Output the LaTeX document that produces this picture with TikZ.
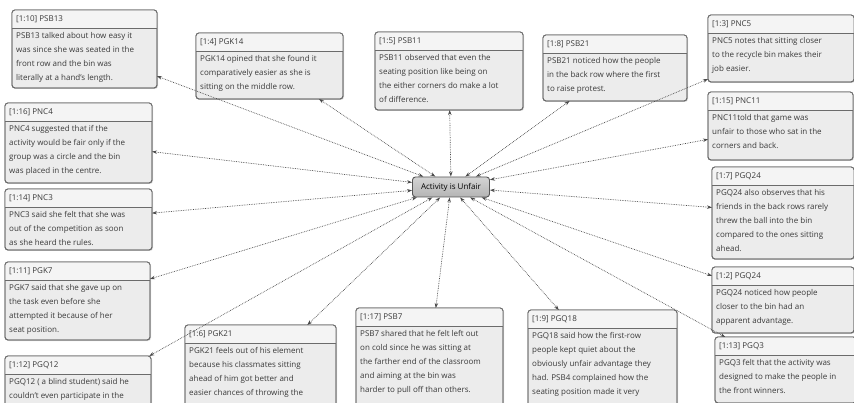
\documentclass[tikz,border=0pt]{standalone}
\usepackage{fontspec}
\setmainfont{Open Sans}
\usetikzlibrary{arrows.meta,calc,shadows}
\definecolor{boxborder}{HTML}{6B6B6B}
\definecolor{bodyfill}{HTML}{ECECEC}
\definecolor{headfill}{HTML}{F4F4F4}
\definecolor{txt}{HTML}{3A3A3A}
\definecolor{hubborder}{HTML}{555555}
\definecolor{hubtop}{HTML}{D4D4D4}
\definecolor{hubbot}{HTML}{B4B4B4}
\definecolor{conncol}{HTML}{4A4A4A}
\tikzset{
  qframe/.style={draw=boxborder, line width=0.9pt, fill=bodyfill, rounded corners=3pt,
    inner sep=0pt, outer sep=0pt, anchor=north west,
    drop shadow={shadow xshift=1pt, shadow yshift=-1pt, opacity=0.25}},
  qhead/.style={anchor=west, inner sep=0pt, font=\fontsize{8}{10}\selectfont, text=txt},
  qbody/.style={anchor=north west, inner sep=0pt, align=left, font=\fontsize{8}{14}\selectfont, text=txt},
  hub/.style={draw=hubborder, line width=0.9pt, rounded corners=3pt, top color=hubtop,
    bottom color=hubbot, minimum width=77pt, minimum height=20pt, inner sep=1pt,
    font=\fontsize{8}{10}\selectfont, text=black},
  conn/.style={densely dotted, line width=0.7pt, draw=conncol,
    {Stealth[length=5pt,width=3.5pt]}-{Stealth[length=5pt,width=3.5pt]}}
}
\newcommand\qbox[7]{%
  \node[qframe, minimum width=#4pt, minimum height=#5pt] (#1) at (#2,#3) {};
  \begin{scope}
    \clip[rounded corners=3pt] (#1.north west) rectangle (#1.south east);
    \fill[headfill] (#1.north west) rectangle ($(#1.north east)+(0,18)$);
  \end{scope}
  \draw[boxborder, line width=0.9pt, rounded corners=3pt] (#1.north west) rectangle (#1.south east);
  \draw[boxborder, line width=0.7pt] ($(#1.north west)+(0,18)$) -- ($(#1.north east)+(0,18)$);
  \node[qhead] (#1h) at ($(#1.north west)+(4,9)$) {#6};
  \node[qbody] (#1b) at ($(#1.north west)+(4,22)$) {#7};
}
\begin{document}
\begin{tikzpicture}[x=1pt,y=-1pt]
\useasboundingbox[fill=white] (0,0) rectangle (854,403);

\qbox{psb13}{12}{10}{145}{78}{[1:10] PSB13}{PSB13 talked about how easy it\\was since she was seated in the\\front row and the bin was\\literally at a hand's length.}
\qbox{pgk14}{196}{33}{147}{66}{[1:4] PGK14}{PGK14 opined that she found it\\comparatively easier as she is\\sitting on the middle row.}
\qbox{psb11}{375}{32}{148}{78}{[1:5] PSB11}{PSB11 observed that even the\\seating position like being on\\the either corners do make a lot\\of difference.}
\qbox{psb21}{543}{35}{144}{66}{[1:8] PSB21}{PSB21 noticed how the people\\in the back row where the first\\to raise protest.}
\qbox{pnc5}{708}{15}{146}{67}{[1:3] PNC5}{PNC5 notes that sitting closer\\to the recycle bin makes their\\job easier.}
\qbox{pnc11}{708}{92}{145}{68}{[1:15] PNC11}{PNC11told that game was\\unfair to those who sat in the\\corners and back.}
\qbox{pgqa}{712}{167}{142}{92}{[1:7] PGQ24}{PGQ24 also observes that his\\friends in the back rows rarely\\threw the ball into the bin\\compared to the ones sitting\\ahead.}
\qbox{pgqb}{712}{267}{142}{66}{[1:2] PGQ24}{PGQ24 noticed how people\\closer to the bin had an\\apparent advantage.}
\qbox{pgq3}{715}{337}{141}{66}{[1:13] PGQ3}{PGQ3 felt that the activity was\\designed to make the people in\\the front winners.}
\qbox{pnc4}{5}{103}{147}{80}{[1:16] PNC4}{PNC4 suggested that if the\\activity would be fair only if the\\group was a circle and the bin\\was placed in the centre.}
\qbox{pnc3}{5}{189}{147}{61}{[1:14] PNC3}{PNC3 said she felt that she was\\out of the competition as soon\\as she heard the rules.}
\qbox{pgk7}{5}{262}{145}{78}{[1:11] PGK7}{PGK7 said that she gave up on\\the task even before she\\attempted it because of her\\seat position.}
\qbox{pgq12}{5}{356}{146}{80}{[1:12] PGQ12}{PGQ12 ( a blind student) said he\\couldn't even participate in the}
\qbox{pgk21}{185}{325}{151}{90}{[1:6] PGK21}{PGK21 feels out of his element\\because his classmates sitting\\ahead of him got better and\\easier chances of throwing the}
\qbox{psb7}{356}{308}{147}{100}{[1:17] PSB7}{PSB7 shared that he felt left out\\on cold since he was sitting at\\the farther end of the classroom\\and aiming at the bin was\\harder to pull off than others.}
\qbox{pgq18}{528}{310}{149}{100}{[1:9] PGQ18}{PGQ18 said how the first-row\\people kept quiet about the\\obviously unfair advantage they\\had. PSB4 complained how the\\seating position made it very}

\node[hub] (c) at (451,187) {Activity is Unfair};

\foreach \n in {psb13,pgk14,psb11,psb21,pnc5,pnc11,pgqa,pgqb,pgq3,pnc4,pnc3,pgk7,pgq12,pgk21,psb7,pgq18}
  \draw[conn] (c) -- (\n);
\end{tikzpicture}
\end{document}
